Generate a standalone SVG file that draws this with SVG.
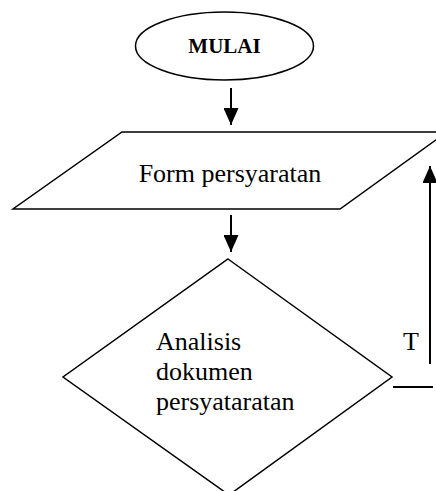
<svg xmlns="http://www.w3.org/2000/svg" width="436" height="491" viewBox="0 0 436 491">
<defs>
<style>
.s{fill:#fff;stroke:#000;stroke-width:1.5}
.l{fill:none;stroke:#000;stroke-width:2}
.t{font-family:"Liberation Serif","Times New Roman",serif;fill:#000}
</style>
<marker id="ah2" viewBox="0 0 10 10" refX="10" refY="5" markerWidth="17" markerHeight="15" markerUnits="userSpaceOnUse" orient="auto" preserveAspectRatio="none">
<path d="M0,0L10,5L0,10z" fill="#000"/>
</marker>
</defs>
<rect width="436" height="491" fill="#fff"/>
<g id="mulai">
<ellipse class="s" cx="224.5" cy="46" rx="89" ry="34"/>
<text class="t" x="224.5" y="53" font-size="21" font-weight="bold" text-anchor="middle">MULAI</text>
</g>
<g id="form">
<polygon class="s" points="122,132 447,132 340,209 13,209"/>
<text class="t" x="230" y="182" font-size="26" text-anchor="middle">Form persyaratan</text>
</g>
<g id="analisis">
<polygon class="s" points="228,259 392,377 229,495 63,377"/>
<text class="t" font-size="26"><tspan x="156" y="350">Analisis</tspan><tspan x="156" y="380">dokumen</tspan><tspan x="156" y="410">persyataratan</tspan></text>
</g>
<g id="connectors">
<line class="l" x1="231" y1="88" x2="231" y2="125" marker-end="url(#ah2)"/>
<line class="l" x1="231" y1="215" x2="231" y2="252" marker-end="url(#ah2)"/>
<line class="l" x1="393" y1="387" x2="433" y2="387"/>
<line class="l" x1="430" y1="364" x2="430" y2="166" marker-end="url(#ah2)"/>
<text class="t" x="403" y="350" font-size="26">T</text>
</g>
</svg>
